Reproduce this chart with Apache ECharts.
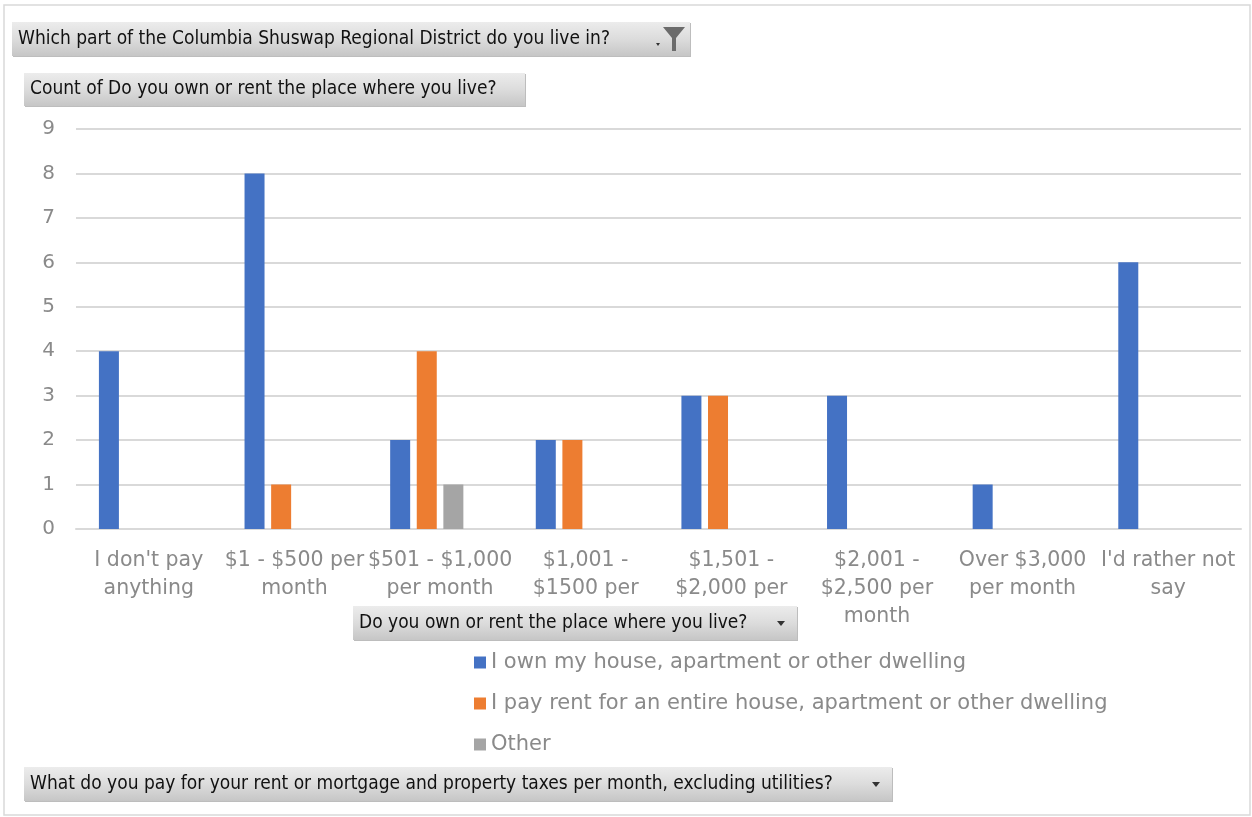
<!DOCTYPE html>
<html><head><meta charset="utf-8">
<script src="https://cdn.jsdelivr.net/npm/echarts@6/dist/echarts.min.js"></script>
<style>html,body{margin:0;padding:0;background:#fff}#c{width:1252px;height:817px}</style>
</head><body><div id="c"></div>
<script>
const categories = [
  "I don't pay\nanything",
  "$1 - $500 per\nmonth",
  "$501 - $1,000\nper month",
  "$1,001 -\n$1500 per\nmonth",
  "$1,501 -\n$2,000 per\nmonth",
  "$2,001 -\n$2,500 per\nmonth",
  "Over $3,000\nper month",
  "I'd rather not\nsay"
];
const seriesNames = [
  "I own my house, apartment or other dwelling",
  "I pay rent for an entire house, apartment or other dwelling",
  "Other",
  "(blank)"
];
const ownValues   = [4, 8, 2, 2, 3, 3, 1, 6];
const rentValues  = [null, 1, 4, 2, 3, null, null, null];
const otherValues = [null, null, 1, null, null, null, null, null];
const blankValues = [null, null, null, null, null, null, null, null];
const yTicks = [0, 1, 2, 3, 4, 5, 6, 7, 8, 9];

const colors = ['#4472C4', '#ED7D31', '#A5A5A5', '#FFC000'];
const labelFont = '"DejaVu Sans", "Open Sans", sans-serif';
const btnFont = '"DejaVu Sans Condensed", "DejaVu Sans", sans-serif';
const btnGrad = {type:'linear', x:0, y:0, x2:0, y2:1, colorStops:[
  {offset:0, color:'#ececec'}, {offset:0.5, color:'#dcdcdc'}, {offset:1, color:'#c6c6c6'}]};

function button(x, y, w, h, label, arrow) {
  const L = {z: 100, zlevel: 1};
  const children = [
    Object.assign({type:'rect', shape:{x:x+1, y:y+1, width:w, height:h}, style:{fill:'#bdbdbd'}}, L),
    Object.assign({type:'rect', shape:{x:x, y:y, width:w, height:h}, style:{fill:btnGrad}}, L, {z: 101}),
    Object.assign({type:'text', x:x+6, y:y+h/2, style:{text:label, font:'19px ' + btnFont, fill:'#111', verticalAlign:'middle'}}, L, {z: 102})
  ];
  if (arrow === 'down') {
    const ax = x + w - 16, ay = y + h/2;
    children.push(Object.assign({type:'polygon', shape:{points:[[ax-4, ay-2],[ax+4, ay-2],[ax, ay+3]]}, style:{fill:'#333'}}, L, {z: 102}));
  } else if (arrow === 'filter') {
    const fx = x + w - 34, fy = y + 5;
    children.push(Object.assign({type:'polygon', shape:{points:[[fx+7,fy],[fx+29,fy],[fx+20,fy+11],[fx+20,fy+24],[fx+16,fy+24],[fx+16,fy+11]]}, style:{fill:'#6b6b6b'}}, L, {z: 102}));
    children.push(Object.assign({type:'polygon', shape:{points:[[fx,fy+16],[fx+4,fy+16],[fx+2,fy+19]]}, style:{fill:'#333'}}, L, {z: 102}));
  }
  return {type:'group', z: 100, zlevel: 1, children};
}

const chart = echarts.init(document.getElementById('c'), null, {renderer:'canvas'});
chart.setOption({
  animation: false,
  backgroundColor: '#fff',
  color: colors,
  grid: {left: 76, right: 11, top: 129, bottom: 288, containLabel: false},
  xAxis: {
    type: 'category',
    data: categories,
    axisLine: {show: true, lineStyle: {color: '#d9d9d9', width: 2}},
    axisTick: {show: false},
    axisLabel: {interval: 0, margin: 18, fontSize: 20.5, lineHeight: 28, color: '#8a8a8a', fontFamily: labelFont}
  },
  yAxis: {
    type: 'value', min: 0, max: 9, interval: 1,
    axisLine: {show: false}, axisTick: {show: false},
    splitLine: {lineStyle: {color: '#d9d9d9', width: 2}},
    axisLabel: {margin: 21, fontSize: 20, color: '#8a8a8a', fontFamily: labelFont,
      formatter: v => String(yTicks[v] ?? v)}
  },
  legend: {
    show: true, orient: 'vertical', left: 469, top: 647,
    data: seriesNames.slice(0, 3),
    icon: 'rect', itemWidth: 12, itemHeight: 12, itemGap: 20,
    textStyle: {fontSize: 21, color: '#8a8a8a', fontFamily: labelFont}
  },
  series: [
    {name: seriesNames[0], type: 'bar', data: ownValues, barWidth: 20, barGap: '33%'},
    {name: seriesNames[1], type: 'bar', data: rentValues, barWidth: 20, barGap: '33%'},
    {name: seriesNames[2], type: 'bar', data: otherValues, barWidth: 20, barGap: '33%'},
    {name: seriesNames[3], type: 'bar', data: blankValues, barWidth: 20, barGap: '33%'}
  ],
  graphic: [
    {type:'rect', shape:{x:4, y:5, width:1246, height:810}, style:{fill:'none', stroke:'#d9d9d9', lineWidth:1.5}, silent:true},
    button(12, 22, 678, 34, 'Which part of the Columbia Shuswap Regional District do you live in?', 'filter'),
    button(24, 73, 501, 33, 'Count of Do you own or rent the place where you live?', null),
    button(353, 606, 444, 34, 'Do you own or rent the place where you live?', 'down'),
    button(24, 767, 868, 34, 'What do you pay for your rent or mortgage and property taxes per month, excluding utilities?', 'down')
  ]
});
</script>
</body></html>
